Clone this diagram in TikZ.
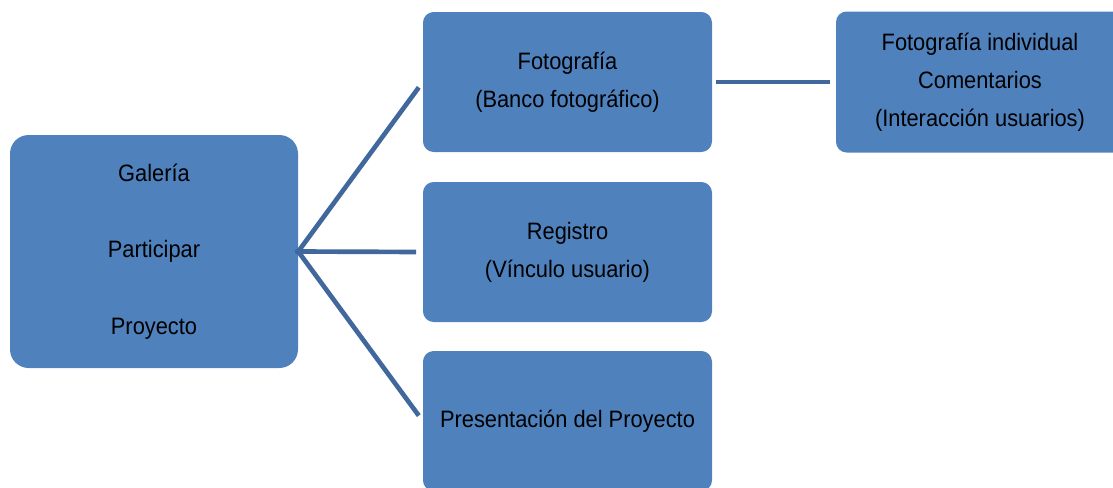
\documentclass[tikz,border=0pt]{standalone}
\usepackage{fontspec}
\setmainfont{Liberation Sans}[FakeStretch=0.92]
\definecolor{boxblue}{HTML}{4F81BD}
\definecolor{lineblue}{HTML}{41689C}
\begin{document}
\begin{tikzpicture}[x=0.75pt,y=-0.75pt,
  box/.style={rectangle, fill=boxblue, inner sep=0pt, align=center,
    rounded corners=8pt, minimum width=216.75pt, minimum height=105pt,
    font=\fontsize{17.8}{28.5}\selectfont, text=black},
  conn/.style={draw=lineblue, line width=3.5pt}]
\useasboundingbox (0,0) rectangle (1113,487);
\clip (0,0) rectangle (1113,487);
\node[box, minimum width=216pt, minimum height=174.75pt, rounded corners=14pt,
  font=\fontsize{17.8}{57.5}\selectfont] (gal) at (154,251.5) {Galería\\Participar\\Proyecto};
\node[box] (foto) at (567.5,82) {Fotografía\\(Banco fotográfico)};
\node[box] (reg) at (567.5,252) {Registro\\(Vínculo usuario)};
\node[box] (pres) at (567.5,421) {Presentación del Proyecto};
\node[box, minimum width=216pt, minimum height=105.75pt] (indiv) at (980,82)
  {Fotografía individual\\Comentarios\\(Interacción usuarios)};
\draw[conn, shorten <=-2pt, shorten >=5pt] (gal.east) -- (foto.west);
\draw[conn, shorten <=-2pt, shorten >=5pt] (gal.east) -- (reg.west);
\draw[conn, shorten <=-2pt, shorten >=5pt] (gal.east) -- (pres.west);
\draw[conn, shorten <=2.5pt, shorten >=4.5pt] (foto.east) -- (indiv.west);
\end{tikzpicture}
\end{document}
